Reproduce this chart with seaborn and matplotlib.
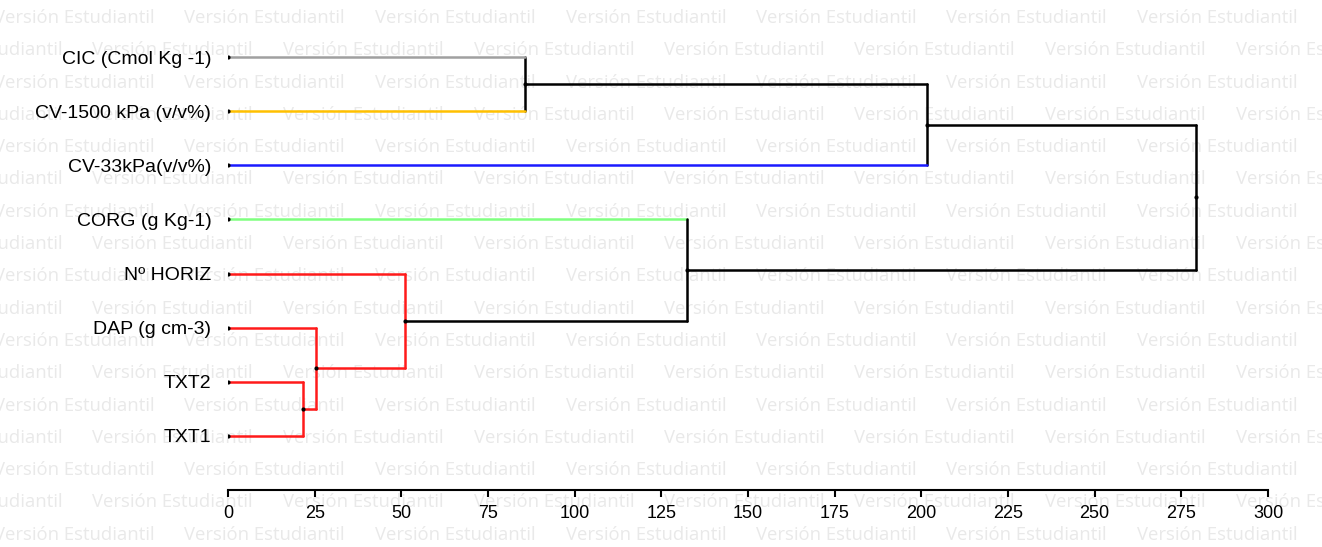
import numpy as np
import pandas as pd
import matplotlib
matplotlib.use("Agg")
import matplotlib.pyplot as plt
import seaborn as sns

# leaves, top to bottom
leaves = ["CIC (Cmol Kg -1)", "CV-1500 kPa (v/v%)", "CV-33kPa(v/v%)", "CORG (g Kg-1)",
          "Nº HORIZ", "DAP (g cm-3)", "TXT2", "TXT1"]
leaf_colors = ["#a0a0a0", "#ffc000", "#1a1aff", "#80ff80",
               "#ff1a1a", "#ff1a1a", "#ff1a1a", "#ff1a1a"]

# merges (ids 8.. in order), children ids and distance
merge_left = [6, 5, 4, 3, 0, 12, 13]
merge_right = [7, 8, 9, 10, 1, 2, 11]
merge_height = [21.7, 25.3, 51.1, 132.3, 85.7, 201.5, 279.1]
merge_colors = ["#ff1a1a", "#ff1a1a", "#ff1a1a", "black", "black", "black", "black"]

xticks = [0, 25, 50, 75, 100, 125, 150, 175, 200, 225, 250, 275, 300]

sns.set_style("white")
plt.rcParams["font.family"] = ["Liberation Sans", "DejaVu Sans"]

n = len(leaves)
node_x = [0.0] * n
node_y = [float(i) for i in range(n)]
rows = []
seg = 0
for a, b, h, c in zip(merge_left, merge_right, merge_height, merge_colors):
    for child in (a, b):
        col = leaf_colors[child] if child < n else c
        rows.append(dict(seg=seg, x=node_x[child], y=node_y[child], color=col))
        rows.append(dict(seg=seg, x=h, y=node_y[child], color=col))
        seg += 1
    rows.append(dict(seg=seg, x=h, y=node_y[a], color=c))
    rows.append(dict(seg=seg, x=h, y=node_y[b], color=c))
    seg += 1
    node_x.append(h)
    node_y.append((node_y[a] + node_y[b]) / 2)
segs = pd.DataFrame(rows)
nodes = pd.DataFrame({"x": node_x, "y": node_y})

fig = plt.figure(figsize=(13.22, 5.47), dpi=100)

# watermark
for r in range(17):
    yy = 1 - (18 + 32.3 * r) / 547
    x0 = -6 if r % 2 == 0 else -98
    for j in range(8):
        fig.text((x0 + 190.5 * j) / 1322, yy, "Versión Estudiantil", fontsize=13.3,
                 family="Open Sans", color="#e9e9e9", ha="left", va="center", zorder=-5)

ax = fig.add_axes([228 / 1322, 1 - 490 / 547, 1040 / 1322, 487 / 547])
ax.set_facecolor("none")

palette = {c: c for c in segs["color"].unique()}
sns.lineplot(data=segs, x="x", y="y", units="seg", estimator=None, hue="color",
             palette=palette, sort=False, legend=False, linewidth=1.8, ax=ax)
sns.scatterplot(data=nodes, x="x", y="y", color="black", s=9, linewidth=0, ax=ax, zorder=5)

ax.set_xlim(0, 300)
ax.set_ylim(n, -1)
ax.set_xticks(xticks)
ax.set_xticklabels([str(t) for t in xticks], fontsize=13, color="black")
ax.set_yticks(range(n))
ax.set_yticklabels(leaves, fontsize=14, color="black")
ax.tick_params(axis="y", length=0, pad=12)
ax.tick_params(axis="x", length=5, width=1.5, direction="out", pad=6, bottom=True, color="black")
ax.set_xlabel("")
ax.set_ylabel("")
for s in ["top", "right", "left"]:
    ax.spines[s].set_visible(False)
ax.spines["bottom"].set_linewidth(1.5)
ax.spines["bottom"].set_color("black")

fig.savefig("out.png", dpi=100)
